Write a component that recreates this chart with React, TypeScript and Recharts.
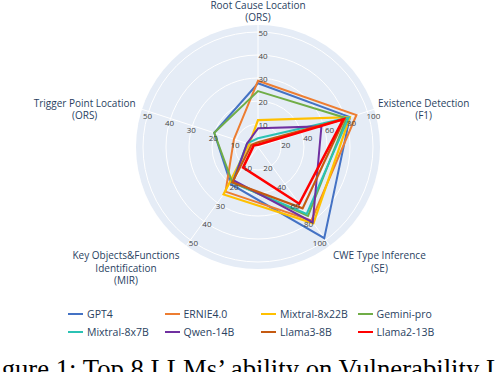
import React from 'react';
import { RadarChart, Radar, PolarGrid, PolarAngleAxis, PolarRadiusAxis, Legend } from 'recharts';

// ---- categories / axes ----
const categories = [
  'Root Cause Location\n(ORS)',
  'Existence Detection\n(F1)',
  'CWE Type Inference\n(SE)',
  'Key Objects&Functions\nIdentification\n(MIR)',
  'Trigger Point Location\n(ORS)',
];
const axisMax = [50, 100, 100, 50, 50];
const ticks50 = [10, 20, 30, 40, 50];
const ticks100 = [20, 40, 60, 80, 100];
const axisTicks = [ticks50, ticks100, ticks100, ticks50, ticks50];

// ---- series ----
const models = ['GPT4', 'ERNIE4.0', 'Mixtral-8x22B', 'Gemini-pro', 'Mixtral-8x7B', 'Qwen-14B', 'Llama3-8B', 'Llama2-13B'];
const colors = ['#4472C4', '#ED7D31', '#FFC000', '#70AD47', '#2BC2B4', '#7030A0', '#C55A11', '#FF0000'];
// order: Root Cause, Existence, CWE, Key Objects, Trigger Point
const gpt4 = [27.7, 84, 98, 20, 20];
const ernie = [28.8, 90, 79, 24, 11];
const mixtral22 = [11.7, 84, 82, 25.5, 4];
const gemini = [24.3, 81, 74, 19, 20];
const mixtral7 = [3.8, 83, 72, 19, 5];
const qwen = [8.1, 58, 81, 18, 5];
const llama3 = [2, 79, 66, 19, 3];
const llama2 = [1, 78, 61, 11, 2];
const seriesValues = [gpt4, ernie, mixtral22, gemini, mixtral7, qwen, llama3, llama2];
const strokeWidths = [2, 2, 2.2, 2, 2, 2, 2.2, 2.6];

// ---- layout ----
const CX = 258;
const CY = 147;
const OUTER = 122;
const OVER = 122 / 115; // background circle extends beyond the last tick

const data = categories.map((c, i) => {
  const row: Record<string, any> = { axis: c };
  models.forEach((m, j) => {
    row[m] = (seriesValues[j][i] / axisMax[i]) * 100;
  });
  return row;
});

const angleLabelLayout = [
  { dx: 0, dy: -11.8 },
  { dx: 42, dy: -3.5 },
  { dx: 45, dy: 3.8 },
  { dx: -55.6, dy: 3.5 },
  { dx: -49.7, dy: -3.5 },
];

const AngleTick = (props: any) => {
  const { x, y, payload } = props;
  const idx = categories.indexOf(payload.value);
  const L = angleLabelLayout[idx] || { dx: 0, dy: 0 };
  const lines = String(payload.value).split('\n');
  const tx = x + L.dx;
  return (
    <text x={tx} y={y + L.dy} textAnchor="middle" fill="#2a3f5f" fontSize={10} fontFamily="'Open Sans', sans-serif">
      {lines.map((ln, k) => (
        <tspan key={k} x={tx} dy={k === 0 ? '0.35em' : 12.5}>
          {ln}
        </tspan>
      ))}
    </text>
  );
};

const radiusTickLayout = [
  { dx: 5, dy: 1, anchor: 'middle' },
  { dx: 6, dy: 5, anchor: 'middle' },
  { dx: 1, dy: 3, anchor: 'end' },
  { dx: 3, dy: 3, anchor: 'middle' },
  { dx: -1, dy: 5, anchor: 'middle' },
];

const makeRadiusTick = (i: number) => (props: any) => {
  const o = radiusTickLayout[i];
  return (
    <text
      x={props.x + o.dx}
      y={props.y + o.dy}
      dy="0.35em"
      textAnchor={o.anchor}
      fontSize={8}
      fill="#444"
      fontFamily="'Open Sans', sans-serif"
    >
      {props.payload.value}
    </text>
  );
};

const LegendContent = (props: any) => {
  const payload = [...(props.payload || [])].sort(
    (a: any, b: any) => models.indexOf(a.value) - models.indexOf(b.value)
  );
  return (
    <div
      style={{
        display: 'grid',
        gridTemplateColumns: 'repeat(4, 96.5px)',
        gridAutoRows: '18.3px',
        paddingLeft: 68,
        fontFamily: "'Open Sans', sans-serif",
        fontSize: 10.5,
        color: '#2a3f5f',
      }}
    >
      {payload.map((p: any) => (
        <div key={p.value} style={{ display: 'flex', alignItems: 'center', whiteSpace: 'nowrap' }}>
          <span style={{ display: 'inline-block', width: 15, height: 2, background: p.color, marginRight: 4 }} />
          <span>{p.value}</span>
        </div>
      ))}
    </div>
  );
};

export default function App() {
  return (
    <div style={{ position: 'absolute', left: 0, top: 0, width: 498, height: 372, overflow: 'hidden', background: '#fff' }}>
      <div
        style={{
          position: 'absolute',
          left: CX - OUTER,
          top: CY - OUTER,
          width: OUTER * 2,
          height: OUTER * 2,
          borderRadius: '50%',
          background: '#E5ECF6',
        }}
      />
      <div style={{ position: 'absolute', left: 0, top: 0 }}>
        <RadarChart
          width={498}
          height={372}
          data={data}
          cx={CX}
          cy={CY}
          outerRadius={OUTER}
          margin={{ top: 0, right: 0, bottom: 0, left: 0 }}
        >
          <PolarGrid gridType="circle" stroke="#ffffff" strokeWidth={1} />
          <PolarAngleAxis dataKey="axis" tick={AngleTick} tickLine={false} axisLine={false} />
          <PolarRadiusAxis
            radiusAxisId={0}
            type="number"
            domain={[0, 100 * OVER]}
            ticks={ticks100}
            tick={false}
            axisLine={false}
            tickLine={false}
            allowDataOverflow
          />
          {axisTicks.map((t, i) => (
            <PolarRadiusAxis
              key={'ax' + i}
              radiusAxisId={'ax' + i}
              angle={90 - i * 72}
              type="number"
              domain={[0, axisMax[i] * OVER]}
              ticks={t}
              tick={makeRadiusTick(i)}
              axisLine={false}
              tickLine={false}
              allowDataOverflow
            />
          ))}
          {models.map((m, j) => (
            <Radar
              key={m}
              name={m}
              dataKey={m}
              radiusAxisId={0}
              stroke={colors[j]}
              strokeWidth={strokeWidths[j]}
              fill="none"
              fillOpacity={0}
              dot={false}
              legendType="line"
              isAnimationActive={false}
            />
          ))}
          <Legend
            content={LegendContent}
            itemSorter={null as any}
            wrapperStyle={{ position: 'absolute', left: 0, top: 304.5, width: 498, bottom: 'auto' }}
          />
        </RadarChart>
      </div>
      <div
        style={{
          position: 'absolute',
          left: -20.6,
          top: 354,
          fontFamily: "'Liberation Serif', 'Times New Roman', serif",
          fontSize: 26.7,
          lineHeight: '30px',
          whiteSpace: 'nowrap',
          color: '#000',
        }}
      >
        Figure 1: Top 8 LLMs’ ability on Vulnerability Localization
      </div>
    </div>
  );
}
